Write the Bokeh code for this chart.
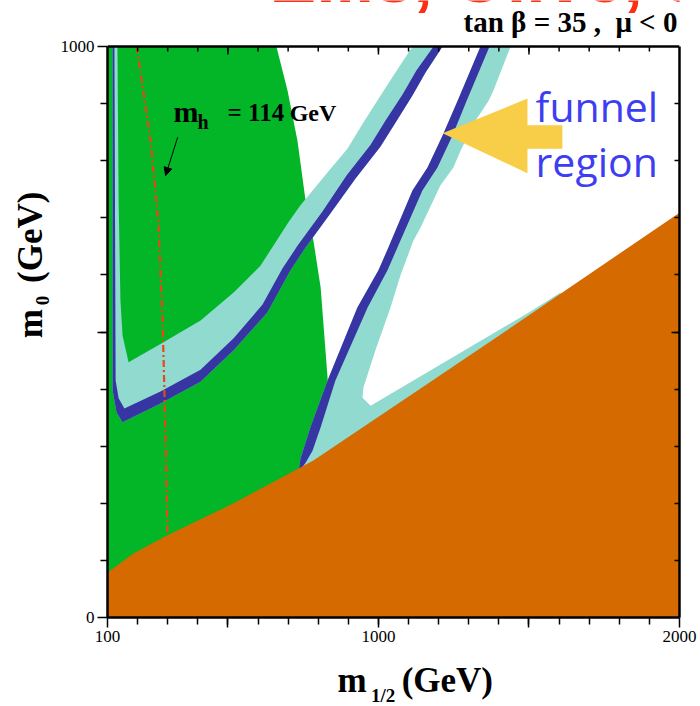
from bokeh.plotting import figure
from bokeh.models import Range1d, FixedTicker, LinearAxis, Label, Arrow, NormalHead
from bokeh.embed import file_html
from bokeh.resources import INLINE
import math

# ---- data (m1/2 in GeV, m0 in GeV) ----
GREEN_M12 = [100, 661, 698, 731, 758, 784, 808, 831, 847, 857, 100]
GREEN_M0 = [1000, 1000, 923, 835, 730, 660, 578, 420, 292, 0, 0]

BROWN_M12 = [100, 186, 299, 519, 784, 1140, 1505, 2000, 2000, 100]
BROWN_M0 = [79, 112, 144, 200, 275, 401, 531, 709, 0, 0]

V_CYAN_M12 = [117, 117, 130, 150, 276, 409, 519, 631, 708, 758, 841, 924, 1007, 1057, 1113, 1156, 1213,
              1113, 1030, 950, 897, 841, 741, 701, 608, 519, 409, 286, 170, 150, 143, 137, 133]
V_CYAN_M0 = [1000, 398, 359, 342, 375, 413, 468, 534, 608, 648, 708, 769, 825, 867, 914, 954, 1000,
             1000, 933, 867, 821, 786, 722, 692, 616, 569, 520, 482, 447, 494, 555, 730, 1000]

V_BLUE_M12 = [117, 117, 130, 150, 276, 409, 519, 631, 708, 758, 841, 924, 1007, 1057, 1113, 1156, 1213,
              1183, 1126, 1080, 1023, 974, 894, 814, 731, 681, 615, 519, 409, 276, 156, 137, 127, 123]
V_BLUE_M0 = [1000, 398, 359, 342, 375, 413, 468, 534, 608, 648, 708, 769, 825, 867, 914, 954, 1000,
             1000, 958, 916, 870, 828, 774, 711, 651, 611, 548, 489, 434, 396, 366, 384, 415, 1000]

B_CYAN_M12 = [1339, 1263, 1213, 1163, 1113, 1033, 1000, 930, 831, 774, 741, 734, 1605, 1605, 1505, 974, 947,
              950, 990, 1040, 1073, 1116, 1140, 1206, 1249, 1273, 1322, 1366, 1382, 1439]
B_CYAN_M0 = [1000, 905, 844, 788, 748, 648, 608, 543, 415, 333, 278, 254, 555, 569, 536, 371, 385,
             403, 468, 543, 599, 660, 683, 757, 788, 818, 870, 905, 923, 1000]

B_BLUE_M12 = [1339, 1263, 1213, 1163, 1113, 1033, 1000, 930, 831, 774, 741, 734,
              758, 781, 808, 857, 964, 1030, 1063, 1146, 1196, 1246, 1293, 1369]
B_BLUE_M0 = [1000, 905, 844, 788, 748, 648, 608, 543, 415, 333, 278, 254,
             271, 292, 333, 415, 543, 608, 648, 748, 788, 844, 905, 1000]

MH_M12 = [197, 243, 269, 283, 293, 299]
MH_M0 = [1000, 835, 692, 520, 315, 149]

ARROW_M12 = [1213, 1495, 1495, 1611, 1611, 1495, 1495]
ARROW_M0 = [848, 909, 862, 862, 821, 821, 778]

X_MIN, X_MAX = 100, 2000
Y_MIN, Y_MAX = 0, 1000
X_TICKS = [100, 500, 1000, 1500, 2000]
X_TICK_LABELS = {100: "100", 500: "", 1000: "1000", 1500: "", 2000: "2000"}
X_MINOR = list(range(200, 2000, 100))
Y_TICKS = [0, 500, 1000]
Y_TICK_LABELS = {0: "0", 500: "", 1000: "1000"}
Y_MINOR = list(range(100, 1000, 100))
TOP_MAJOR = [500, 1000, 1500]
TOP_MINOR = list(range(200, 2000, 100))

GREEN = "#03B627"
BROWN = "#D46A00"
CYAN = "#90DACF"
NAVY = "#3734A4"

PX_PER_M0 = 0.571             # vertical scale of the frame (pixels per GeV)
Y_VIEW_TOP = 617 / PX_PER_M0  # frame reaches the top of the picture

p = figure(width=700, height=706, title=None,
           x_range=Range1d(X_MIN, X_MAX), y_range=Range1d(Y_MIN, Y_VIEW_TOP),
           output_backend="svg", toolbar_location=None,
           min_border_left=107, min_border_right=21, min_border_top=0, min_border_bottom=89)
p.xgrid.visible = False
p.ygrid.visible = False
p.background_fill_color = "white"
p.border_fill_color = "white"
p.outline_line_color = None

p.patch(GREEN_M12, GREEN_M0, fill_color=GREEN, line_color=None)
p.patch(V_CYAN_M12, V_CYAN_M0, fill_color=CYAN, line_color=None)
p.patch(B_CYAN_M12, B_CYAN_M0, fill_color=CYAN, line_color=None)
p.patch(V_BLUE_M12, V_BLUE_M0, fill_color=NAVY, line_color=None)
p.patch(B_BLUE_M12, B_BLUE_M0, fill_color=NAVY, line_color=None)
p.patch(BROWN_M12, BROWN_M0, fill_color=BROWN, line_color=None)
p.line(MH_M12, MH_M0, line_color="#EE4515", line_width=2.2, line_dash="7 3 2 3")
p.patch(ARROW_M12, ARROW_M0, fill_color="#F8CD48", line_color=None)

# top edge of the box with inward ticks
p.segment(x0=X_MIN, y0=Y_MAX, x1=X_MAX, y1=Y_MAX, line_color="black", line_width=2.5)
p.segment(x0=TOP_MINOR, y0=Y_MAX, x1=TOP_MINOR, y1=Y_MAX - 5 / PX_PER_M0, line_color="black", line_width=1.5)
p.segment(x0=TOP_MAJOR, y0=Y_MAX, x1=TOP_MAJOR, y1=Y_MAX - 8 / PX_PER_M0, line_color="black", line_width=1.5)

serif = "Liberation Serif"

def style_axis(ax, labels=True, inward=False):
    ax.axis_line_width = 2.5
    ax.axis_line_color = "black"
    ax.major_tick_line_width = 1.5
    ax.minor_tick_line_width = 1.5
    if inward:
        ax.major_tick_in = 8
        ax.major_tick_out = 0
        ax.minor_tick_in = 5
        ax.minor_tick_out = 0
    else:
        ax.major_tick_in = 0
        ax.major_tick_out = 10
        ax.minor_tick_in = 0
        ax.minor_tick_out = 7
    if labels:
        ax.major_label_text_font = serif
        ax.major_label_text_font_size = "17px"
        ax.major_label_text_color = "black"
        ax.major_label_standoff = 3
    else:
        ax.major_label_text_font_size = "0px"
        ax.major_label_text_alpha = 0

p.xaxis.ticker = FixedTicker(ticks=X_TICKS, minor_ticks=X_MINOR)
p.xaxis.major_label_overrides = X_TICK_LABELS
p.yaxis.ticker = FixedTicker(ticks=Y_TICKS, minor_ticks=Y_MINOR)
p.yaxis.major_label_overrides = Y_TICK_LABELS
p.yaxis.bounds = (Y_MIN, Y_MAX)
style_axis(p.xaxis[0])
style_axis(p.yaxis[0])

right = LinearAxis(ticker=FixedTicker(ticks=[500], minor_ticks=list(range(100, 1000, 100))),
                   bounds=(Y_MIN, Y_MAX))
style_axis(right, labels=False, inward=True)
p.add_layout(right, "right")

def lab(x, y, text, size, font=serif, style="bold", color="black", align="left",
        angle=0.0, place="center"):
    shift = round(0.38 * size)
    if angle:
        xo, yo = -shift, 0
    else:
        xo, yo = 0, shift
    lbl = Label(x=x, y=y, text=text, text_font=font, text_font_size=f"{size}px",
                text_font_style=style, text_color=color, text_align=align,
                text_baseline="alphabetic", angle=angle, x_offset=xo, y_offset=yo)
    p.add_layout(lbl, place)

NB = "\u00a0"
# red heading (cut at the top of the picture)
lab(638, 1072, "Ellis, Olive, Santoso, Spanos", 70, font="Liberation Sans", color="#FF2D14")
# tan beta heading
lab(1993, 1024, "tan \u03b2 = 35 ," + NB + NB + "\u03bc < 0", 29, align="right")

# axis titles (outside the frame, in the side panels)
lab(864, -133, "m" + NB * 4 + "(GeV)", 35, place="below")
lab(975, -149, "1/2", 19, place="below")
lab(-113, 489, "m" + NB * 3 + "(GeV)", 35, angle=math.pi / 2, place="left")
lab(-93, 547, "0", 19, angle=math.pi / 2, place="left")

# m_h label
lab(319, 867, "m", 30)
lab(399, 853, "h", 20)
lab(499, 867, "= 114", 25)
lab(705, 867, "GeV", 24)
p.add_layout(Arrow(end=NormalHead(size=8, fill_color="black", line_color="black", line_width=1),
                   x_start=333, y_start=841, x_end=293, y_end=774, line_width=1, line_color="black"))

# funnel region
lab(1522, 867, "funnel", 41, font="Open Sans", style="normal", color="#3D3DF2")
lab(1522, 771, "region", 41, font="Open Sans", style="normal", color="#3D3DF2")

open("out.html", "w").write(file_html(p, INLINE))
